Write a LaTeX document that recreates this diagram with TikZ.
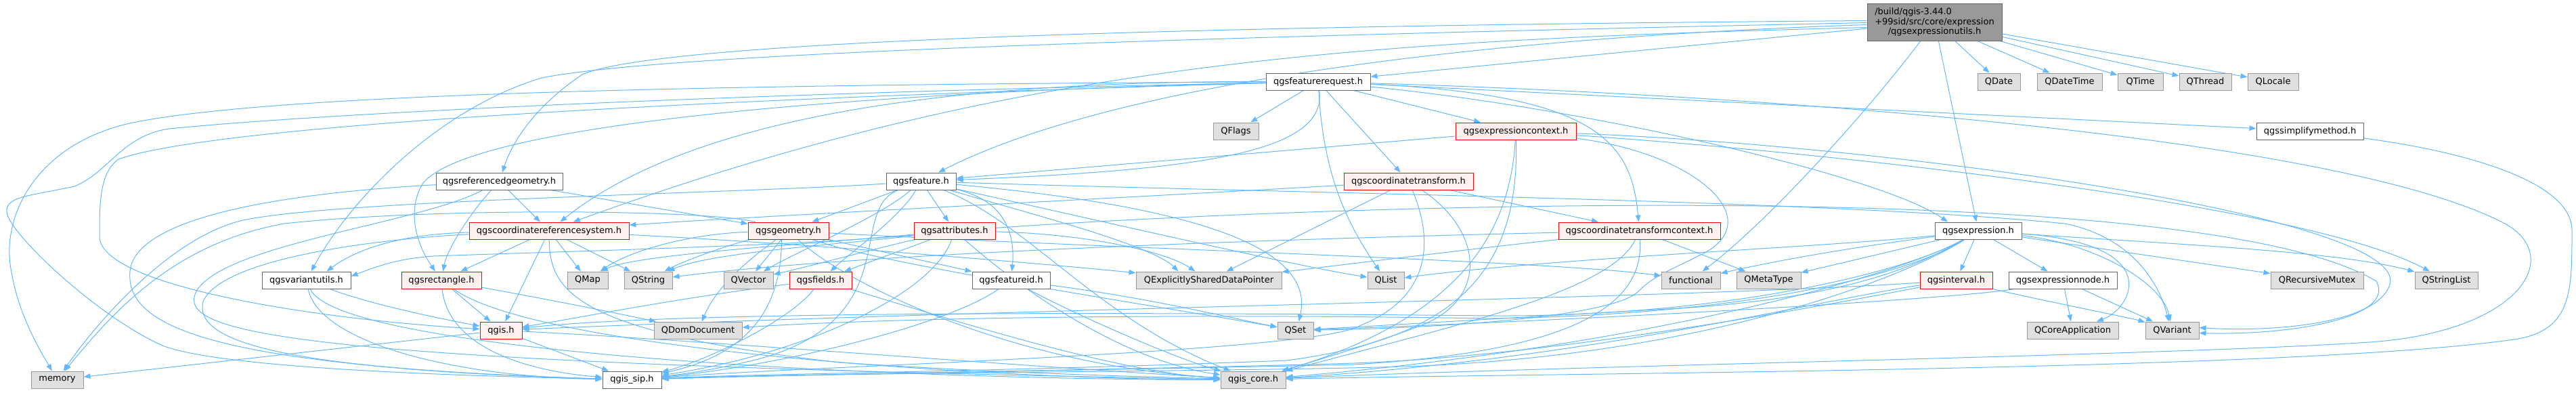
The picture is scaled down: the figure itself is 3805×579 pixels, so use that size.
\documentclass[tikz,border=0pt]{standalone}
\usepackage{fontspec}
\setmainfont{DejaVu Sans}
\usetikzlibrary{arrows.meta}
\definecolor{edgec}{HTML}{63B8FF}
\definecolor{docb}{HTML}{666666}
\definecolor{sysf}{HTML}{E0E0E0}
\definecolor{sysb}{HTML}{999999}
\definecolor{redf}{HTML}{FFF0F0}
\definecolor{redb}{HTML}{FF0000}
\definecolor{mainf}{HTML}{999999}
\pgfdeclarelayer{bg}
\pgfsetlayers{bg,main}
\tikzset{
  box/.style={minimum height=25pt, inner sep=0pt, line width=1pt, font=\fontsize{13pt}{15pt}\selectfont},
  doc/.style={box, draw=docb, fill=white},
  sys/.style={box, draw=sysb, fill=sysf},
  redn/.style={box, draw=redb, fill=redf},
  mainn/.style={box, draw=docb, fill=mainf, minimum width=199pt, minimum height=55pt, align=center, font=\fontsize{13pt}{14.8pt}\selectfont},
  e/.style={draw=edgec, line width=1pt, -{Triangle[length=10pt,width=7.5pt]}},
}
\begin{document}
\begin{tikzpicture}[x=1pt,y=-1pt]
\useasboundingbox (0,0) rectangle (3805,579);
% nodes
\node[mainn] (M) at (2857.5,32.5) {\rlap{/build/qgis-3.44.0}\phantom{+99sid/src/core/expression}\\+99sid/src/core/expression\\/qgsexpressionutils.h};
\node[sys, minimum width=63pt] (QDate) at (2952.5,120.5) {QDate};
\node[sys, minimum width=96pt] (QDateTime) at (3057,120.5) {QDateTime};
\node[sys, minimum width=67pt] (QTime) at (3161.5,120.5) {QTime};
\node[sys, minimum width=77pt] (QThread) at (3257.5,120.5) {QThread};
\node[sys, minimum width=75pt] (QLocale) at (3357.5,120.5) {QLocale};
\node[doc, minimum width=154pt] (FR) at (1947,120.5) {qgsfeaturerequest.h};
\node[sys, minimum width=67pt] (QFlags) at (1825.5,193.5) {QFlags};
\node[redn, minimum width=178pt] (EC) at (2239,193.5) {qgsexpressioncontext.h};
\node[doc, minimum width=158pt] (SM) at (3412,193.5) {qgssimplifymethod.h};
\node[doc, minimum width=187pt] (RG) at (737.5,267.5) {qgsreferencedgeometry.h};
\node[doc, minimum width=103pt] (F) at (1360.5,267.5) {qgsfeature.h};
\node[redn, minimum width=191pt] (CT) at (2080.5,267.5) {qgscoordinatetransform.h};
\node[redn, minimum width=236pt] (CRS) at (811,340.5) {qgscoordinatereferencesystem.h};
\node[redn, minimum width=119pt] (GEOM) at (1164.5,340.5) {qgsgeometry.h};
\node[redn, minimum width=120pt] (ATTR) at (1410,340.5) {qgsattributes.h};
\node[redn, minimum width=239pt] (CTC) at (2421.5,340.5) {qgscoordinatetransformcontext.h};
\node[doc, minimum width=128pt] (E) at (2922,340.5) {qgsexpression.h};
\node[doc, minimum width=131pt] (VU) at (452.5,413.5) {qgsvariantutils.h};
\node[redn, minimum width=118pt] (RECT) at (652,413.5) {qgsrectangle.h};
\node[sys, minimum width=60pt] (QMap) at (868,413.5) {QMap};
\node[sys, minimum width=71pt] (QString) at (957.5,413.5) {QString};
\node[sys, minimum width=73pt] (QVector) at (1105.5,413.5) {QVector};
\node[redn, minimum width=92pt] (FIELDS) at (1212,413.5) {qgsfields.h};
\node[doc, minimum width=115pt] (FID) at (1493.5,413.5) {qgsfeatureid.h};
\node[sys, minimum width=215pt] (QESDP) at (1785.5,413.5) {QExplicitlySharedDataPointer};
\node[sys, minimum width=54pt] (QList) at (2047,413.5) {QList};
\node[sys, minimum width=87pt] (functional) at (2497.5,413.5) {functional};
\node[sys, minimum width=95pt] (QMetaType) at (2612.5,413.5) {QMetaType};
\node[redn, minimum width=107pt] (INTERVAL) at (2889.5,413.5) {qgsinterval.h};
\node[doc, minimum width=160pt] (NODE) at (3047,413.5) {qgsexpressionnode.h};
\node[sys, minimum width=137pt] (QRM) at (3422.5,413.5) {QRecursiveMutex};
\node[sys, minimum width=93pt] (QStringList) at (3613.5,413.5) {QStringList};
\node[redn, minimum width=62pt] (QGIS) at (740,487.5) {qgis.h};
\node[sys, minimum width=130pt] (QDom) at (1031,487.5) {QDomDocument};
\node[sys, minimum width=53pt] (QSet) at (1913.5,487.5) {QSet};
\node[sys, minimum width=135pt] (QCoreApp) at (3061.5,487.5) {QCoreApplication};
\node[sys, minimum width=79pt] (QVariant) at (3208.5,487.5) {QVariant};
\node[sys, minimum width=77pt] (memory) at (84.5,560.5) {memory};
\node[doc, minimum width=87pt] (SIP) at (933.5,560.5) {qgis\_sip.h};
\node[sys, minimum width=96pt] (CORE) at (1851,560.5) {qgis\_core.h};

\begin{pgfonlayer}{bg}
% main
\draw[e] (M) -- (QDate);
\draw[e] (M) -- (QDateTime);
\draw[e] (M) -- (QTime);
\draw[e] (M) -- (QThread);
\draw[e] (M) -- (QLocale);
\draw[e] (M) -- (E);
\draw[e] (M) .. controls (2770,150) and (2620,320) .. (functional);
\draw[e] (M) -- (FR);
\draw[e] ([yshift=-4pt]M.west) .. controls (2200,55) and (1650,120) .. (F);
\draw[e] ([yshift=2pt]M.west) .. controls (1500,40) and (950,70) .. (860,110) .. controls (800,150) and (760,200) .. (RG);
\draw[e] ([yshift=-1pt]M.west) .. controls (1500,60) and (950,85) .. (800,115) .. controls (650,160) and (520,290) .. (VU);
\draw[e] ([yshift=-8pt]M.west) .. controls (2000,60) and (1500,90) .. (CRS);
% featurerequest
\draw[e] (FR) -- (QFlags);
\draw[e] (FR) .. controls (1960,220) and (1800,250) .. (F);
\draw[e] (FR) .. controls (1955,260) and (1990,330) .. (QList);
\draw[e] (FR) -- (CT);
\draw[e] (FR) -- (EC);
\draw[e] (FR) .. controls (2360,140) and (2410,210) .. (CTC);
\draw[e] (FR) .. controls (2350,160) and (2780,260) .. ([xshift=-45pt]E.north);
\draw[e] (FR) -- (SM);
\draw[e] (FR) .. controls (1500,120) and (1050,150) .. (CRS);
\draw[e] (FR) .. controls (1300,135) and (700,180) .. (625,270) .. controls (600,310) and (615,360) .. (RECT);
\draw[e] (FR) .. controls (1000,125) and (400,140) .. (196,181) .. controls (60,210) and (5,310) .. (15,390) .. controls (25,460) and (55,510) .. (memory);
\draw[e] (FR) .. controls (1000,140) and (450,170) .. (250,190) .. controls (180,200) and (160,255) .. (110,275) .. controls (40,290) and (0,290) .. (12,320) .. controls (30,360) and (150,470) .. (240,510) .. controls (330,545) and (700,555) .. (SIP);
\draw[e] (FR) .. controls (900,150) and (300,190) .. (175,235) .. controls (147,255) and (147,300) .. (147,350) .. controls (150,420) and (450,470) .. (QGIS);
\draw[e] (FR) .. controls (2600,140) and (3450,200) .. (3700,330) .. controls (3790,380) and (3720,490) .. (3500,505) .. controls (3200,525) and (2300,540) .. (CORE);
% expressioncontext
\draw[e] (EC) -- (F);
\draw[e] (EC) .. controls (2500,225) and (2610,320) .. (2520,372) .. controls (2470,398) and (2445,405) .. (2420,430) .. controls (2380,470) and (2100,485) .. (QSet);
\draw[e] (EC) .. controls (2700,225) and (3400,300) .. (QStringList);
\draw[e] (EC) .. controls (2230,350) and (2150,470) .. (CORE);
\draw[e] (EC) .. controls (2245,400) and (2150,500) .. (1900,532) .. controls (1500,548) and (1100,552) .. (SIP);
\draw[e] (EC) .. controls (2800,215) and (3560,320) .. (3530,420) .. controls (3510,480) and (3350,490) .. ([yshift=4pt]QVariant.east);
% coordinatetransform
\draw[e] (CT) .. controls (1700,290) and (1100,320) .. (CRS);
\draw[e] (CT) -- (CTC);
\draw[e] (CT) -- (QESDP);
\draw[e] (CT) .. controls (2190,340) and (2200,440) .. (2100,480) .. controls (2020,510) and (1950,530) .. (CORE);
\draw[e] (CT) .. controls (2120,360) and (2110,440) .. (2010,480) .. controls (1950,520) and (1200,540) .. (SIP);
% coordinatetransformcontext
\draw[e] (CTC) -- (QMetaType);
\draw[e] (CTC) .. controls (2150,370) and (1950,395) .. (QESDP);
\draw[e] (CTC) .. controls (2380,430) and (2150,480) .. (CORE);
\draw[e] (CTC) .. controls (2430,460) and (2300,520) .. (2000,538) .. controls (1700,545) and (1200,552) .. (SIP);
\draw[e] (CTC) .. controls (2000,350) and (1300,370) .. (QString);
% feature
\draw[e] (F) -- (GEOM);
\draw[e] (F) -- (ATTR);
\draw[e] (F) .. controls (1330,320) and (1260,370) .. (FIELDS);
\draw[e] (F) .. controls (1480,295) and (1500,340) .. (FID);
\draw[e] (F) .. controls (1300,320) and (1180,370) .. (QVector);
\draw[e] (F) .. controls (1500,310) and (1700,360) .. ([xshift=-45pt]QESDP.north);
\draw[e] (F) .. controls (1900,285) and (2700,295) .. (3050,330) .. controls (3150,350) and (3190,420) .. ([xshift=-5pt]QVariant.north);
\draw[e] (F) .. controls (1100,285) and (500,295) .. (359,325) .. controls (250,350) and (140,480) .. (memory);
\draw[e] (F) .. controls (1520,330) and (1620,470) .. (CORE);
\draw[e] (F) .. controls (1250,310) and (1340,470) .. (1120,530) .. controls (1060,545) and (1010,552) .. (SIP);
\draw[e] (F) .. controls (1600,320) and (1900,390) .. (QList);
\draw[e] (F) .. controls (1820,310) and (1940,380) .. ([xshift=5pt]QSet.north);
% attributes
\draw[e] (ATTR) -- (FIELDS);
\draw[e] (ATTR) .. controls (1300,365) and (1200,392) .. (QVector);
\draw[e] (ATTR) .. controls (1250,360) and (1050,372) .. (QString);
\draw[e] (ATTR) .. controls (1200,360) and (940,375) .. ([xshift=20pt]QMap.north);
\draw[e] (ATTR) .. controls (1600,345) and (1720,370) .. ([xshift=-20pt]QESDP.north);
\draw[e] (ATTR) .. controls (1200,362) and (800,372) .. (640,378) .. controls (580,382) and (545,398) .. ([yshift=6pt]VU.east);
\draw[e] (ATTR) .. controls (2000,300) and (3250,260) .. (3510,415) .. controls (3540,470) and (3380,495) .. ([yshift=-4pt]QVariant.east);
\draw[e] (ATTR) .. controls (1500,420) and (1650,530) .. (CORE);
\draw[e] (ATTR) .. controls (1380,430) and (1200,520) .. (SIP);
% geometry
\draw[e] (GEOM) -- (QVector);
\draw[e] (GEOM) .. controls (1110,380) and (1060,420) .. (QDom);
\draw[e] (GEOM) .. controls (1080,360) and (1010,385) .. (QString);
\draw[e] (GEOM) .. controls (1020,345) and (930,370) .. (QMap);
\draw[e] (GEOM) .. controls (1300,390) and (1700,450) .. (QSet);
\draw[e] (GEOM) -- (FID);
\draw[e] (GEOM) .. controls (1600,365) and (2300,385) .. (functional);
\draw[e] (GEOM) .. controls (1050,310) and (650,305) .. (420,330) .. controls (250,360) and (160,470) .. (memory);
\draw[e] (GEOM) .. controls (1250,420) and (1500,540) .. (CORE);
\draw[e] ([xshift=-10pt]GEOM.south) .. controls (1154,440) and (1120,520) .. (SIP);
% fields
\draw[e] (FIELDS) .. controls (1000,440) and (850,470) .. (QGIS);
\draw[e] (FIELDS) .. controls (1170,470) and (1050,530) .. (SIP);
\draw[e] (FIELDS) .. controls (1400,470) and (1650,550) .. (CORE);
% featureid
\draw[e] (FID) .. controls (1700,440) and (1820,470) .. (QSet);
\draw[e] (FID) .. controls (1400,480) and (1150,540) .. (SIP);
\draw[e] (FID) .. controls (1600,470) and (1740,530) .. (CORE);
% variantutils
\draw[e] (VU) .. controls (550,450) and (650,470) .. (QGIS);
\draw[e] (VU) .. controls (470,500) and (650,555) .. (SIP);
\draw[e] (VU) .. controls (500,520) and (1300,560) .. (CORE);
% rectangle
\draw[e] (RECT) -- (QGIS);
\draw[e] (RECT) .. controls (800,440) and (900,460) .. (QDom);
\draw[e] (RECT) .. controls (660,500) and (750,545) .. (SIP);
\draw[e] (RECT) .. controls (800,520) and (1500,560) .. (CORE);
% referencedgeometry
\draw[e] (RG) -- (CRS);
\draw[e] (RG) .. controls (690,320) and (660,370) .. (RECT);
\draw[e] (RG) -- (GEOM);
\draw[e] (RG) .. controls (420,285) and (200,320) .. (192,400) .. controls (185,480) and (300,540) .. (SIP);
\draw[e] (RG) .. controls (620,330) and (330,360) .. (290,430) .. controls (260,490) and (400,535) .. (CORE);
% crs
\draw[e] (CRS) -- (RECT);
\draw[e] (CRS) -- (QGIS);
\draw[e] (CRS) -- (QMap);
\draw[e] (CRS) -- (QString);
\draw[e] (CRS) .. controls (812,430) and (850,490) .. (1240,535) .. controls (1500,552) and (1700,556) .. (CORE);
\draw[e] (CRS) .. controls (1200,360) and (1550,390) .. (QESDP);
\draw[e] (CRS) .. controls (600,345) and (530,365) .. ([xshift=30pt]VU.north);
\draw[e] (CRS) .. controls (600,350) and (330,375) .. (300,445) .. controls (285,505) and (420,545) .. (SIP);
% qgis.h
\draw[e] (QGIS) -- (SIP);
\draw[e] (QGIS) -- (memory);
\draw[e] (QGIS) .. controls (1000,500) and (1500,540) .. (CORE);
% expression
\draw[e] (E) .. controls (2700,370) and (2600,390) .. (functional);
\draw[e] (E) -- (QMetaType);
\draw[e] (E) -- (INTERVAL);
\draw[e] (E) -- (NODE);
\draw[e] (E) .. controls (3200,360) and (3150,455) .. (QCoreApp);
\draw[e] (E) .. controls (3100,360) and (3195,420) .. (QVariant);
\draw[e] (E) -- (QRM);
\draw[e] (E) .. controls (3200,360) and (3450,370) .. (QStringList);
\draw[e] (E) .. controls (2700,365) and (2300,380) .. (QList);
\draw[e] (E) .. controls (2830,395) and (2720,440) .. (2480,455) .. controls (2300,465) and (2050,480) .. (QSet);
\draw[e] (E) .. controls (2830,400) and (2600,465) .. (2200,470) .. controls (1700,462) and (1300,470) .. (QDom);
\draw[e] (E) .. controls (2820,400) and (2550,468) .. (2200,466) .. controls (1600,460) and (1000,460) .. (QGIS);
\draw[e] (E) .. controls (2820,400) and (2450,510) .. (CORE);
\draw[e] (E) .. controls (2830,400) and (2550,520) .. (2100,540) .. controls (1900,548) and (1200,550) .. (SIP);
% interval
\draw[e] (INTERVAL) .. controls (3000,440) and (3150,470) .. (QVariant);
\draw[e] (INTERVAL) .. controls (2700,440) and (2350,530) .. (CORE);
\draw[e] (INTERVAL) .. controls (2700,450) and (2300,525) .. (2000,536) .. controls (1700,545) and (1200,552) .. (SIP);
\draw[e] (INTERVAL) .. controls (2500,440) and (1500,455) .. (QGIS);
% expressionnode
\draw[e] (NODE) -- (QCoreApp);
\draw[e] (NODE) -- (QVariant);
\draw[e] (NODE) .. controls (2900,440) and (2400,470) .. (QSet);
% simplifymethod
\draw[e] (SM) .. controls (3650,225) and (3799,270) .. (3799,340) .. controls (3799,430) and (3799,485) .. (3720,500) .. controls (3400,548) and (2300,550) .. (CORE);
\end{pgfonlayer}
\end{tikzpicture}
\end{document}
